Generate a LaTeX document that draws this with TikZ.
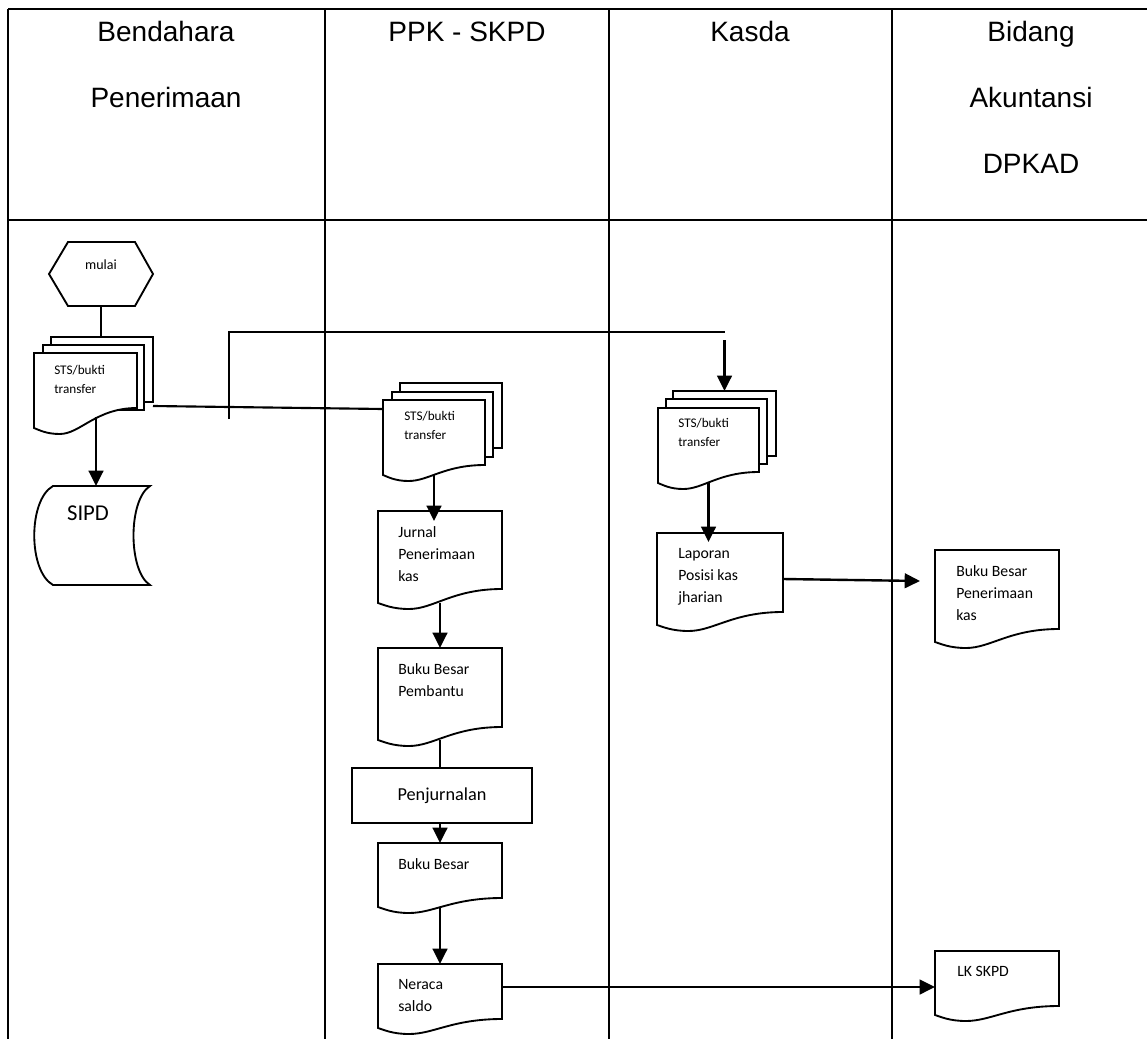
\documentclass[tikz,border=0pt]{standalone}
\usepackage{fontspec}
\setmainfont{Carlito}
\newfontfamily\hdrfont{Liberation Sans}
\usetikzlibrary{calc,arrows.meta}
\newcommand\docout[2]{%
  \draw[shp] (#1.north west) -- (#1.north east) -- ($(#1.south east)+(0,-#2)$)
    .. controls ($(#1.south west)!0.6!(#1.south east)+(0,-#2)$) and ($(#1.south west)!0.45!(#1.south east)+(0,6)$) .. ($(#1.south west)!0.25!(#1.south east)+(0,6)$)
    .. controls ($(#1.south west)!0.12!(#1.south east)+(0,6)$) and ($(#1.south west)!0.05!(#1.south east)+(0,2)$) .. (#1.south west) -- cycle;}
\begin{document}
\begin{tikzpicture}[x=0.75pt,y=-0.75pt,
  shp/.style={draw=black,line width=1.4pt,fill=white},
  box/.style 2 args={draw=none,inner sep=0pt,outer sep=0pt,minimum width=#1*0.75pt,minimum height=#2*0.75pt},
  frm/.style={line width=1.5pt},
  frmthick/.style={line width=2pt},
  ln/.style={line width=1.6pt},
  arr/.style={line width=1.8pt,-{Triangle[length=11.5pt,width=11pt]}},
  hdr/.style={font=\hdrfont\fontsize{21}{49.5}\selectfont,align=center,inner sep=0pt,anchor=north},
  dtxt/.style={font=\fontsize{11.8}{16.5}\selectfont,align=left,inner sep=0pt,anchor=north west},
  stxt/.style={font=\fontsize{9.9}{14.3}\selectfont,align=left,inner sep=0pt,anchor=north west}]
\useasboundingbox (0,0) rectangle (1147,1039);
% frame and lanes
\draw[frmthick] (8,9) -- (1147,9);
\draw[frmthick] (8,220) -- (1147,220);
\draw[frm] (8,9) -- (8,1039);
\draw[frm] (325,9) -- (325,1039);
\draw[frm] (609,9) -- (609,1039);
\draw[frm] (892,9) -- (892,1039);
% headers
\node[hdr] (hA) at (166,21) {Bendahara\\Penerimaan};
\node[hdr] (hB) at (467,21) {\vphantom{d}PPK - SKPD};
\node[hdr] (hC) at (750,21) {Kasda};
\node[hdr] (hD) at (1031,21) {Bidang\\Akuntansi\\DPKAD};
% start hexagon
\node[box={104}{64}] (hex) at (101,274) {};
\draw[shp] (hex.west) -- ($(hex.north west)+(19,0)$) -- ($(hex.north east)+(-18,0)$) -- (hex.east) -- ($(hex.south east)+(-18,0)$) -- ($(hex.south west)+(19,0)$) -- cycle;
\node[font=\fontsize{10.5}{12}\selectfont,inner sep=0pt] (mulaiT) at (101,265) {mulai};
% left stack
\node[box={102}{65},shp] (lB) at (102,369.5) {};
\node[box={101}{65},shp] (lM) at (93.5,377.5) {};
\node[box={103}{75}] (lF) at (85.5,390.5) {};
\docout{lF}{20}
\node[stxt] (lFt) at (54,365) {STS/bukti\\transfer};
% SIPD
\node[box={116}{99}] (sipd) at (92,535.5) {};
\draw[shp] ($(sipd.north west)+(19,0)$) -- (sipd.north east)
  .. controls ($(sipd.north east)+(-22,14)$) and ($(sipd.south east)+(-22,-14)$) .. (sipd.south east)
  -- ($(sipd.south west)+(19,0)$)
  .. controls ($(sipd.south west)+(-6,-14)$) and ($(sipd.north west)+(-6,14)$) .. ($(sipd.north west)+(19,0)$) -- cycle;
\node[font=\fontsize{17}{20}\selectfont,inner sep=0pt] (sipdT) at (88,513) {SIPD};
% PPK stack
\node[box={102}{65},shp] (ppkB) at (451,415.5) {};
\node[box={101}{65},shp] (ppkM) at (442.5,424.5) {};
\node[box={102}{75}] (ppkF) at (434,437.5) {};
\docout{ppkF}{10}
\node[stxt] (ppkFt) at (404,411) {STS/bukti\\transfer};
% Kasda stack
\node[box={103}{65},shp] (kB) at (724.5,423.5) {};
\node[box={101}{65},shp] (kM) at (716.5,431.5) {};
\node[box={101}{75}] (kF) at (708.5,445.5) {};
\docout{kF}{11}
\node[stxt] (kFt) at (678,418) {STS/bukti\\transfer};
% PPK column documents
\node[box={124}{92}] (jurnal) at (440,557) {};
\docout{jurnal}{14}
\node[dtxt] (jurnalT) at ($(jurnal.north west)+(20,15.5)$) {Jurnal\\Penerimaan\\kas};
\node[box={124}{92}] (bbp) at (440,694) {};
\docout{bbp}{13}
\node[dtxt] (bbpT) at ($(bbp.north west)+(20,15.5)$) {Buku Besar\\Pembantu};
\node[box={180}{55},shp,font=\fontsize{13.7}{16}\selectfont] (penj) at (442,795.5) {Penjurnalan};
\node[box={124}{64}] (bb) at (440,875) {};
\docout{bb}{9}
\node[dtxt] (bbT) at ($(bb.north west)+(20,15.5)$) {Buku Besar};
\node[box={124}{64}] (neraca) at (440,996) {};
\docout{neraca}{9}
\node[dtxt] (neracaT) at ($(neraca.north west)+(20,15.5)$) {Neraca\\saldo};
% Kasda document
\node[box={126}{92}] (lap) at (720,579) {};
\docout{lap}{13}
\node[dtxt] (lapT) at ($(lap.north west)+(21,15.5)$) {Laporan\\Posisi kas\\jharian};
% Bidang documents
\node[box={124}{92}] (bbpk) at (997,596) {};
\docout{bbpk}{13}
\node[dtxt] (bbpkT) at ($(bbpk.north west)+(21,15.5)$) {Buku Besar\\Penerimaan\\kas};
\node[box={124}{64}] (lk) at (997,983) {};
\docout{lk}{9}
\node[dtxt] (lkT) at ($(lk.north west)+(22,15.5)$) {LK SKPD};
% connectors
\draw[ln] (hex.south) -- (hex.south |- lB.north);
\coordinate (lFout) at (96,417);
\draw[arr] (lFout) -- (lFout |- sipd.north);
\draw[ln] ($(lB.south east)+(0,4)$) -- ($(ppkF.north west)+(0,9)$);
\coordinate (split) at (229,419);
\draw[ln] (split) |- ($(kB.north)+(0,-59)$);
\draw[arr] ($(kB.north)+(0,-51)$) -- (kB.north);
\draw[arr] (ppkF.south) -- ($(ppkF.south |- jurnal.north)+(0,10)$);
\draw[arr] (jurnal.south) -- (bbp.north);
\draw[ln] (bbp.south) -- (bbp.south |- penj.north);
\draw[arr] (penj.south -| bb.north) -- (bb.north);
\draw[arr] (bb.south) -- (neraca.north);
\coordinate (nerOut) at ($(neraca.north east)+(0,23)$);
\draw[arr] (nerOut) -- (nerOut -| lk.west);
\draw[arr] (kF.south) -- ($(kF.south |- lap.north)+(0,9)$);
\draw[arr] (lap.east) -- ($(bbpk.west)+(-15,-15)$);
\end{tikzpicture}
\end{document}
